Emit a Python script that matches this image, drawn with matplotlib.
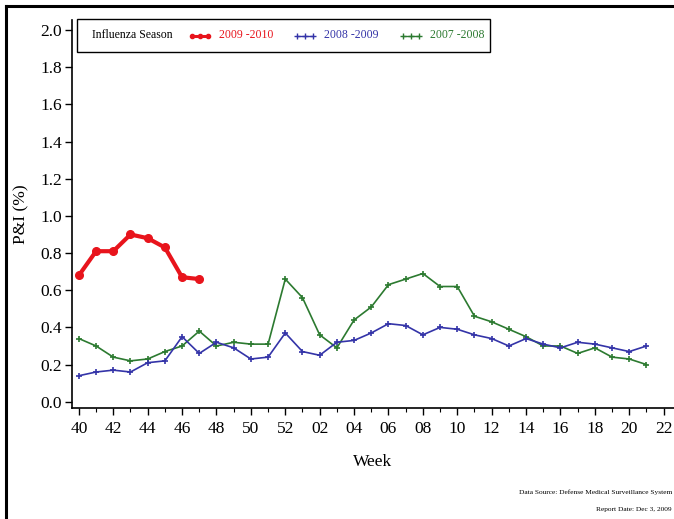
import numpy as np
import matplotlib
matplotlib.use("Agg")
import matplotlib.pyplot as plt
from matplotlib.lines import Line2D
from matplotlib.patches import Rectangle

plt.rcParams['font.family'] = ['Liberation Serif', 'DejaVu Serif']

# week axis: 40..52 then 01..22
weeks = [str(w) for w in range(40, 53)] + ['%02d' % w for w in range(1, 23)]

season_0910 = [0.68, 0.81, 0.81, 0.90, 0.88, 0.83, 0.67, 0.66]
season_0809 = [0.14, 0.16, 0.17, 0.16, 0.21, 0.22, 0.35, 0.26, 0.32, 0.29, 0.23, 0.24, 0.37, 0.27,
               0.25, 0.32, 0.33, 0.37, 0.42, 0.41, 0.36, 0.40, 0.39, 0.36, 0.34, 0.30, 0.34, 0.31,
               0.29, 0.32, 0.31, 0.29, 0.27, 0.30]
season_0708 = [0.34, 0.30, 0.24, 0.22, 0.23, 0.27, 0.30, 0.38, 0.30, 0.32, 0.31, 0.31, 0.66, 0.56,
               0.36, 0.29, 0.44, 0.51, 0.63, 0.66, 0.69, 0.62, 0.62, 0.46, 0.43, 0.39, 0.35, 0.30,
               0.30, 0.26, 0.29, 0.24, 0.23, 0.20]

red = '#e8141c'
blue = '#3434a8'
green = '#2c7a30'

W, H = 674, 519
fig = plt.figure(figsize=(6.74, 5.19), dpi=100)
ax = fig.add_axes([72 / W, 1 - 407.5 / H, 1 - 72 / W, (407.5 - 20) / H])

ax.plot(np.arange(len(season_0708)), season_0708, color=green, lw=1.2,
        marker='+', ms=5, mew=1.2)
ax.plot(np.arange(len(season_0809)), season_0809, color=blue, lw=1.2,
        marker='+', ms=5, mew=1.2)
ax.plot(np.arange(len(season_0910)), season_0910, color=red, lw=3,
        marker='o', ms=5.5)

ax.set_xlim(-0.4, 34.6)
ax.set_ylim(-0.031, 2.054)
ax.set_yticks(np.arange(0, 2.01, 0.2))
ax.set_yticklabels(['%.1f' % v for v in np.arange(0, 2.01, 0.2)])
ax.set_xticks(range(0, len(weeks), 2))
ax.set_xticklabels(weeks[::2])
ax.set_xticks(range(1, len(weeks), 2), minor=True)
ax.tick_params(axis='both', which='major', labelsize=12.5, length=5, width=1, pad=2)
ax.tick_params(axis='x', which='major', pad=5)
ax.tick_params(axis='x', which='minor', length=3, width=0.8)
ax.spines['top'].set_visible(False)
ax.spines['right'].set_visible(False)
ax.spines['left'].set_linewidth(1.2)
ax.spines['bottom'].set_linewidth(1.2)

ax.set_xlabel('Week', fontsize=12.5, labelpad=12)
ax.set_ylabel('P&I (%)', fontsize=12.5, labelpad=8)

# legend box with inline title (figure pixel positions)
def fx(px):
    return px / W

def fy(py):
    return 1 - py / H

fig.add_artist(Rectangle((fx(77), fy(52)), fx(490) - fx(77), fy(19) - fy(52),
                         transform=fig.transFigure, fill=False, edgecolor='black', lw=1))
ly = 35.5
fig.text(fx(92), fy(ly), 'Influenza Season', ha='left', va='center', fontsize=8.5)
entries = [('2009 -2010', red, 192, 'o', 2.2, 3), ('2008 -2009', blue, 297, '+', 1.0, 4),
           ('2007 -2008', green, 403, '+', 1.0, 4)]
for lab, col, x0, mk, lw, ms in entries:
    fig.add_artist(Line2D([fx(x0), fx(x0 + 8), fx(x0 + 16)], [fy(ly)] * 3, transform=fig.transFigure,
                          color=col, lw=lw, marker=mk, ms=ms, mew=1))
    fig.text(fx(x0 + 27), fy(ly), lab, ha='left', va='center', fontsize=8.5, color=col)

fig.text(0.997, fy(492), 'Data Source: Defense Medical Surveillance System',
         ha='right', va='center', fontsize=5.3)
fig.text(0.997, fy(510), 'Report Date: Dec 3, 2009',
         ha='right', va='center', fontsize=5.3)

# outer frame
fig.add_artist(Line2D([fx(5.5), fx(5.5)], [0, fy(5.5)], color='black', lw=2.2))
fig.add_artist(Line2D([fx(5.5), 1], [fy(6), fy(6)], color='black', lw=2.2))

fig.savefig('out.png', dpi=100)
